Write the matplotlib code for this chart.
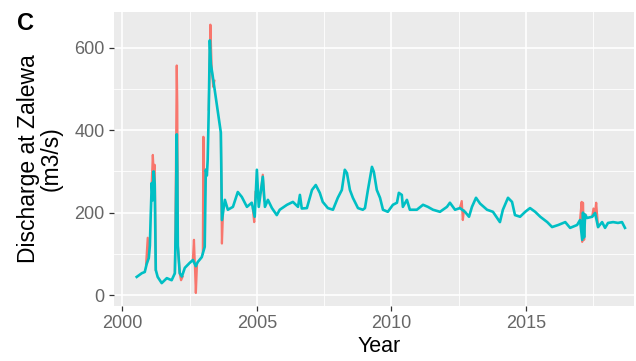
import numpy as np
import matplotlib
matplotlib.use("Agg")
import matplotlib.pyplot as plt
from matplotlib.ticker import MultipleLocator

# Daily discharge at Zalewa (m3/s)
teal_year = [2000.53, 2000.72, 2000.83, 2000.90, 2000.98, 2001.02, 2001.05, 2001.09, 2001.13, 2001.16,
             2001.20, 2001.24, 2001.31, 2001.46, 2001.65, 2001.83, 2001.95, 2001.98, 2002.02, 2002.04,
             2002.06, 2002.13, 2002.21, 2002.32, 2002.50, 2002.62, 2002.73, 2002.80, 2002.95, 2003.06,
             2003.10, 2003.14, 2003.17, 2003.21, 2003.25, 2003.29, 2003.32, 2003.36, 2003.66, 2003.70,
             2003.81, 2003.92, 2004.11, 2004.29, 2004.44, 2004.63, 2004.81, 2004.92, 2005.00, 2005.07,
             2005.22, 2005.30, 2005.41, 2005.56, 2005.74, 2005.85, 2006.12, 2006.34, 2006.53, 2006.60,
             2006.67, 2006.86, 2007.05, 2007.19, 2007.34, 2007.45, 2007.64, 2007.83, 2008.01, 2008.16,
             2008.27, 2008.35, 2008.46, 2008.57, 2008.76, 2008.94, 2009.02, 2009.13, 2009.28, 2009.35,
             2009.46, 2009.58, 2009.69, 2009.87, 2010.06, 2010.21, 2010.28, 2010.39, 2010.43, 2010.58,
             2010.69, 2010.95, 2011.18, 2011.36, 2011.55, 2011.81, 2012.07, 2012.18, 2012.37, 2012.55,
             2012.74, 2012.89, 2013.00, 2013.15, 2013.30, 2013.56, 2013.78, 2014.04, 2014.15, 2014.34,
             2014.49, 2014.60, 2014.79, 2014.98, 2015.16, 2015.35, 2015.54, 2015.80, 2015.98, 2016.21,
             2016.47, 2016.65, 2016.91, 2017.02, 2017.10, 2017.13, 2017.17, 2017.21, 2017.28, 2017.47,
             2017.58, 2017.69, 2017.84, 2017.95, 2018.06, 2018.25, 2018.43, 2018.58, 2018.69]
teal_q = [44, 53, 56, 75, 90, 120, 190, 272, 230, 300,
          270, 61, 44, 29, 41, 36, 53, 158, 390, 300,
          120, 53, 45, 66, 78, 85, 70, 80, 92, 117,
          304, 290, 328, 450, 618, 560, 547, 530, 394, 182,
          231, 207, 214, 250, 238, 214, 224, 190, 304, 214,
          287, 214, 231, 211, 194, 207, 219, 226, 214, 243,
          210, 211, 255, 267, 248, 226, 211, 207, 236, 255,
          304, 296, 255, 236, 211, 207, 211, 255, 311, 299,
          255, 236, 207, 202, 219, 224, 248, 243, 214, 231,
          207, 207, 219, 214, 207, 202, 214, 224, 207, 211,
          202, 190, 214, 236, 222, 207, 202, 177, 207, 236,
          226, 194, 190, 202, 211, 202, 190, 177, 165, 170,
          177, 163, 170, 182, 134, 200, 140, 195, 187, 190,
          199, 165, 177, 163, 175, 177, 175, 177, 163]

# Second series, only where it departs from the first (nan splits the pieces)
nan = np.nan
red_year = [2000.88, 2000.94, 2000.98, nan,
            2001.09, 2001.13, 2001.16, 2001.20, 2001.24, nan,
            2001.95, 2001.97, 2002.02, 2002.04, 2002.06, 2002.13, 2002.18, 2002.24, nan,
            2002.62, 2002.66, 2002.69, 2002.73, 2002.77, nan,
            2002.99, 2003.01, 2003.04, 2003.08, 2003.10, nan,
            2003.21, 2003.27, 2003.32, 2003.38, 2003.42, nan,
            2003.66, 2003.70, 2003.74, nan,
            2004.85, 2004.90, 2004.95, nan,
            2005.15, 2005.22, 2005.27, nan,
            2012.55, 2012.62, 2012.66, 2012.70, nan,
            2017.02, 2017.08, 2017.10, 2017.13, 2017.17, 2017.21, nan,
            2017.47, 2017.52, 2017.58, 2017.62, 2017.69]
red_q = [75, 139, 90, nan,
         272, 340, 300, 316, 61, nan,
         53, 158, 557, 460, 120, 53, 36, 45, nan,
         85, 134, 80, 5, 70, nan,
         100, 384, 150, 280, 304, nan,
         450, 656, 547, 505, 520, nan,
         394, 125, 200, nan,
         210, 177, 250, nan,
         250, 292, 230, nan,
         211, 228, 182, 205, nan,
         182, 226, 129, 224, 134, 195, nan,
         190, 210, 199, 224, 165]

x_ticks = [2000, 2005, 2010, 2015]
y_ticks = [0, 200, 400, 600]

plt.rcParams['font.family'] = ['Liberation Sans', 'DejaVu Sans']

fig = plt.figure(figsize=(6.36, 3.61), dpi=100)
ax = fig.add_axes([0.179, 0.153, 0.818, 0.814])
ax.set_facecolor("#EBEBEB")

ax.plot(red_year, red_q, color="#F8766D", lw=1.6, zorder=2)
ax.plot(teal_year, teal_q, color="#00BFC4", lw=1.9, zorder=3)

ax.set_xlim(1999.68, 2019.03)
ax.set_ylim(-26, 687)
ax.set_xticks(x_ticks)
ax.set_yticks(y_ticks)
ax.xaxis.set_minor_locator(MultipleLocator(2.5))
ax.yaxis.set_minor_locator(MultipleLocator(100))

ax.grid(which="major", color="white", lw=1.2)
ax.grid(which="minor", color="white", lw=0.6)
ax.set_axisbelow(True)
for s in ax.spines.values():
    s.set_visible(False)

ax.tick_params(which="major", length=3.5, width=0.9, color="#333333",
               labelsize=13, labelcolor="#666666", pad=3)
ax.tick_params(which="minor", length=0)

ax.set_xlabel("Year", fontsize=15.5, color="black")
ax.xaxis.set_label_coords(0.51, -0.103)
ax.xaxis.label.set_va("top")
ax.set_ylabel("Discharge at Zalewa\n(m3/s)", fontsize=16.5, color="black", linespacing=1.0)
ax.yaxis.set_label_coords(-0.142, 0.5)
ax.yaxis.label.set_va("center")

fig.text(0.027, 0.967, "C", fontsize=17, fontweight="bold", va="top", ha="left")

fig.savefig("out.png", dpi=100)
